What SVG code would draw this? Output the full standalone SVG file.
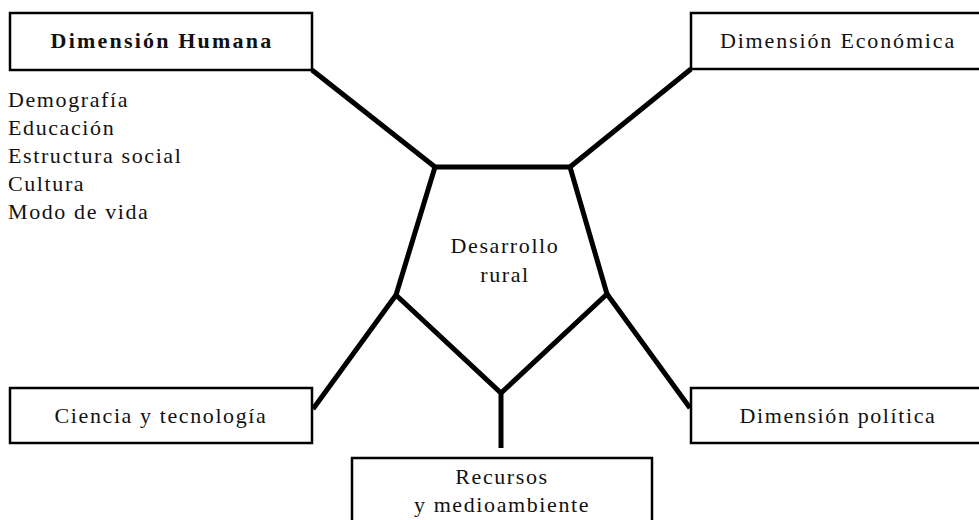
<svg xmlns="http://www.w3.org/2000/svg" width="979" height="520" viewBox="0 0 979 520">
<style>
.box{fill:#fff;stroke:#000;stroke-width:2.5}
.t{font-family:"Liberation Serif",serif;font-size:22px;letter-spacing:1.6px;fill:#111}
.c{text-anchor:middle}
.b{font-weight:bold;letter-spacing:2.2px}
.w{letter-spacing:1.85px}
.ln{stroke:#000;stroke-width:5;fill:none;stroke-linejoin:miter;stroke-linecap:butt}
</style>
<rect width="979" height="520" fill="#fff"/>
<g id="connectors">
<polygon class="ln" points="435,167 570,167 607,294 501,393 396,295"/>
<line class="ln" x1="435" y1="167" x2="312" y2="70"/>
<line class="ln" x1="570" y1="167" x2="691" y2="69"/>
<line class="ln" x1="396" y1="295" x2="313" y2="409"/>
<line class="ln" x1="607" y1="294" x2="690" y2="408"/>
<line class="ln" x1="501" y1="393" x2="501" y2="448"/>
</g>
<g id="humana">
<rect class="box" x="10" y="13" width="302" height="57"/>
<text class="t c b" x="162" y="48">Dimensión Humana</text>
<text class="t" x="8" y="107">Demografía</text>
<text class="t" x="8" y="135">Educación</text>
<text class="t" x="8" y="163">Estructura social</text>
<text class="t" x="8" y="191">Cultura</text>
<text class="t" x="8" y="219">Modo de vida</text>
</g>
<g id="economica">
<rect class="box" x="691" y="13" width="300" height="56"/>
<text class="t c w" x="838" y="48">Dimensión Económica</text>
</g>
<g id="desarrollo">
<text class="t c" x="505" y="253">Desarrollo</text>
<text class="t c" x="505" y="282">rural</text>
</g>
<g id="ciencia">
<rect class="box" x="10" y="388" width="302" height="55"/>
<text class="t c" x="161" y="423">Ciencia y tecnología</text>
</g>
<g id="politica">
<rect class="box" x="691" y="388" width="300" height="55"/>
<text class="t c" x="838" y="423">Dimensión política</text>
</g>
<g id="recursos">
<rect class="box" x="352" y="458" width="300" height="70"/>
<text class="t c" x="502" y="484">Recursos</text>
<text class="t c" x="502" y="512">y medioambiente</text>
</g>
</svg>
